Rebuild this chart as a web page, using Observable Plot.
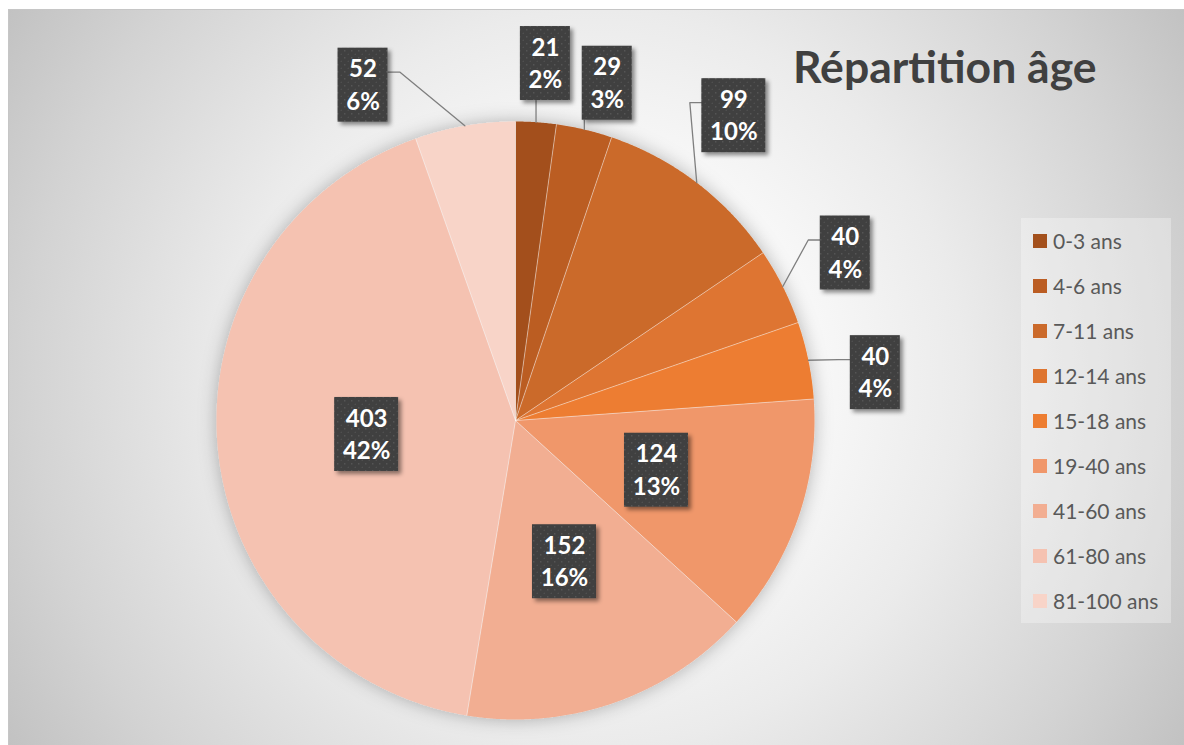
<!DOCTYPE html>
<html><head><meta charset="utf-8">
<script src="https://cdn.jsdelivr.net/npm/d3@7"></script>
<script src="https://cdn.jsdelivr.net/npm/@observablehq/plot@0.6"></script>
<style>
body{margin:0;background:#fff;}
#wrap{position:relative;width:1184px;height:745px;overflow:hidden;font-family:Lato, sans-serif;}
#area{position:absolute;left:8px;top:9px;right:0;bottom:0;border-top:1px solid #c6c6c6;border-left:1px solid #c6c6c6;
 background: radial-gradient(circle farthest-corner at 50% 50%, #ffffff 0%, #f7f7f7 33%, #ebebeb 53%, #d3d3d3 82%, #c2c2c2 100%);}
#chart{position:absolute;left:0;top:0;}
#title{position:absolute;left:793px;top:44px;font-family:Lato;font-weight:bold;font-size:44.5px;color:#404040;line-height:44px;white-space:nowrap;}
#legend{position:absolute;left:1021px;top:218px;width:150px;height:405px;background:rgba(255,255,255,0.3);}
.row{height:45px;display:flex;align-items:center;font-size:21px;color:#595959;white-space:nowrap;}
.sw{width:14px;height:14px;margin-left:12px;margin-right:6px;flex:none;}
</style></head><body>
<div id="wrap"><div id="area"></div><div id="chart"></div><div id="title">Répartition âge</div><div id="legend"></div></div>
<script>
// ---- data ----
const ages = ["0-3 ans","4-6 ans","7-11 ans","12-14 ans","15-18 ans","19-40 ans","41-60 ans","61-80 ans","81-100 ans"];
const counts = [21, 29, 99, 40, 40, 124, 152, 403, 52];
const percentLabels = ["2%","3%","10%","4%","4%","13%","16%","42%","6%"];
const sliceColors = ["#a3501c","#bb5d23","#cb6a2b","#de7530","#ed7d31","#f0976b","#f2ae92","#f5c2b1","#f8d4c8"];

// ---- layout (not data) ----
const CX = 515, CY = 420, R = 299;
// label placement: radius (in pie radii) and angular nudge (degrees)
const labelPlace = [
  {r:1.198, d:0.85}, {r:1.169, d:1.9}, {r:1.254, d:-1.7}, {r:1.237, d:-0.3},
  {r:1.214, d:4.05}, {r:0.5, d:0.3}, {r:0.5, d:0}, {r:0.5, d:-0.3}, {r:1.232, d:-14.7}
];
const BOX_H = 74, PX = 1 / R;

const arcs = d3.pie().sort(null).startAngle(0).endAngle(2 * Math.PI)(counts);

// slice polygons
const piePts = [];
arcs.forEach((a, i) => {
  piePts.push({age: ages[i], x: 0, y: 0});
  const n = Math.max(4, Math.ceil((a.endAngle - a.startAngle) / 0.005));
  for (let k = 0; k <= n; k++) {
    const t = a.startAngle + (a.endAngle - a.startAngle) * k / n;
    piePts.push({age: ages[i], x: Math.sin(t), y: Math.cos(t)});
  }
});

// labels & leaders
const labels = [], leaders = [];
arcs.forEach((a, i) => {
  const mid = (a.startAngle + a.endAngle) / 2;
  const th = mid + labelPlace[i].d * Math.PI / 180;
  const r = labelPlace[i].r;
  const x = r * Math.sin(th), y = r * Math.cos(th);
  const len = Math.max(String(counts[i]).length, percentLabels[i].length);
  const w = (22 + 14 * len) * PX, h = BOX_H * PX;
  const L = {age: ages[i], value: String(counts[i]), pct: percentLabels[i], x, y,
    x1: x - w / 2, x2: x + w / 2, y1: y - h / 2, y2: y + h / 2};
  labels.push(L);
  if (r > 1) {
    const px = Math.sin(mid), py = Math.cos(mid);
    if (px >= L.x1 && px <= L.x2 && py < L.y1) {
      leaders.push({id: i, x: px, y: L.y1}, {id: i, x: px, y: py});
    } else {
      const side = px < L.x1 ? L.x1 : L.x2;
      const dir = px < L.x1 ? -1 : 1;
      const sy = L.y2 - 24 * PX;
      leaders.push({id: i, x: side, y: sy}, {id: i, x: side + dir * 12 * PX, y: sy}, {id: i, x: px, y: py});
    }
  }
});

const svg = Plot.plot({
  width: 1184, height: 745, margin: 0,
  style: {background: "transparent", overflow: "visible"},
  x: {domain: [-1, 1], range: [CX - R, CX + R], axis: null},
  y: {domain: [-1, 1], range: [CY + R, CY - R], axis: null},
  color: {domain: ages, range: sliceColors},
  marks: [
    Plot.line(piePts, {x: "x", y: "y", z: "age", fill: "age", stroke: "none"}),
    Plot.link(arcs, {x1: () => 0, y1: () => 0, x2: d => Math.sin(d.startAngle), y2: d => Math.cos(d.startAngle),
      stroke: "#ffffff", strokeOpacity: 0.45, strokeWidth: 1}),
    Plot.line(leaders, {x: "x", y: "y", z: "id", stroke: "#7f7f7f", strokeWidth: 1.3}),
    Plot.rect(labels, {x1: "x1", x2: "x2", y1: "y1", y2: "y2", fill: "url(#dots)"}),
    Plot.text(labels, {x: "x", y: "y", text: "value", dy: -15.5, fill: "white", fontWeight: "bold", fontSize: 24, fontFamily: "Lato"}),
    Plot.text(labels, {x: "x", y: "y", text: "pct", dy: 17, fill: "white", fontWeight: "bold", fontSize: 24, fontFamily: "Lato"})
  ]
});

const s = d3.select(svg);
const defs = s.insert("defs", ":first-child");
const pat = defs.append("pattern").attr("id", "dots").attr("width", 7).attr("height", 7).attr("patternUnits", "userSpaceOnUse");
pat.append("rect").attr("width", 7).attr("height", 7).attr("fill", "#3f3f3f");
pat.append("circle").attr("cx", 1.75).attr("cy", 1.75).attr("r", 0.85).attr("fill", "#585858");
pat.append("circle").attr("cx", 5.25).attr("cy", 5.25).attr("r", 0.85).attr("fill", "#4f4f4f");
defs.append("filter").attr("id", "boxShadow").attr("x", "-30%").attr("y", "-30%").attr("width", "170%").attr("height", "170%")
  .append("feDropShadow").attr("dx", 3).attr("dy", 3).attr("stdDeviation", 2).attr("flood-color", "#000").attr("flood-opacity", 0.45);
defs.append("filter").attr("id", "pieShadow").attr("x", "-20%").attr("y", "-20%").attr("width", "140%").attr("height", "140%")
  .append("feDropShadow").attr("dx", 0).attr("dy", 0).attr("stdDeviation", 9).attr("flood-color", "#000").attr("flood-opacity", 0.28);
s.selectAll('g[aria-label="rect"]').attr("filter", "url(#boxShadow)");
s.selectAll('g[aria-label="line"]').filter((d, i) => i === 0).attr("filter", "url(#pieShadow)");

document.getElementById("chart").appendChild(svg);

// legend from the plot's colour scale
const color = svg.scale("color");
const leg = d3.select("#legend");
ages.forEach((a, i) => {
  const row = leg.append("div").attr("class", "row");
  row.append("div").attr("class", "sw").style("background", color.range[i]);
  row.append("span").text(a);
});
</script>
</body></html>
